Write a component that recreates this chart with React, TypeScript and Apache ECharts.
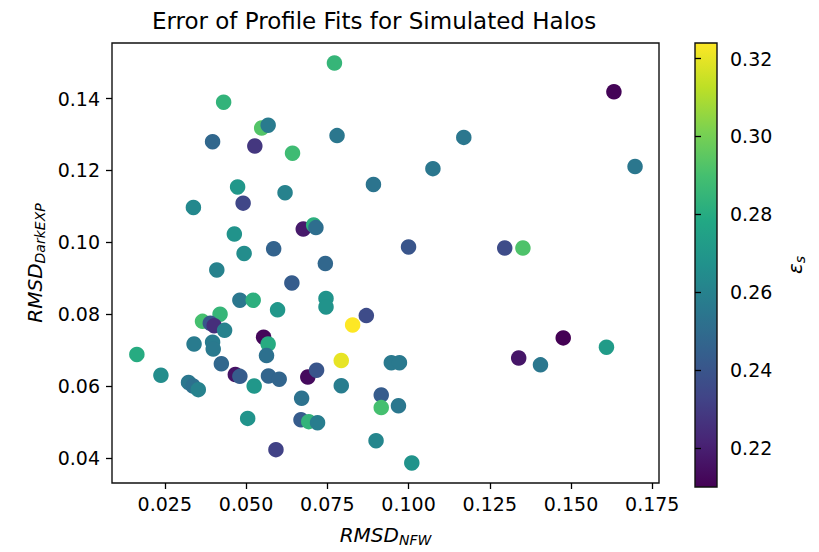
import React, { useEffect, useRef } from "react";
import * as echarts from "echarts";

const xValues = [
  0.0772, 0.0431, 0.0548, 0.0568, 0.0397, 0.0527, 0.078, 0.0643, 0.0474, 0.062,
  0.0892, 0.0338, 0.0491, 0.0464, 0.0676, 0.0708, 0.0715, 0.0494, 0.0585, 0.0744,
  0.1632, 0.117, 0.1075, 0.1697, 0.1, 0.1296, 0.1352, 0.041, 0.0641, 0.0481,
  0.0522, 0.0746, 0.0746, 0.0597, 0.087, 0.0828, 0.0366, 0.042, 0.039, 0.0402,
  0.0434, 0.0554, 0.0568, 0.0563, 0.034, 0.0397, 0.0399, 0.0164, 0.0424, 0.0238,
  0.0323, 0.0337, 0.0353, 0.0467, 0.0481, 0.0525, 0.0569, 0.0602, 0.069, 0.0717,
  0.0793, 0.0793, 0.0671, 0.0505, 0.0669, 0.0693, 0.072, 0.0592, 0.0947, 0.0972,
  0.0916, 0.0916, 0.0969, 0.09, 0.101, 0.1476, 0.1339, 0.1406, 0.1609,
];
const yValues = [
  0.1499, 0.139, 0.1318, 0.1326, 0.128, 0.1268, 0.1297, 0.1248, 0.1154, 0.1138,
  0.1161, 0.1097, 0.1109, 0.1023, 0.1037, 0.1048, 0.1041, 0.0969, 0.0982, 0.0941,
  0.1419, 0.1292, 0.1205, 0.1211, 0.0987, 0.0984, 0.0984, 0.0923, 0.0887, 0.0839,
  0.0839, 0.0844, 0.082, 0.0812, 0.0796, 0.077, 0.078, 0.08, 0.0775, 0.0768,
  0.0755, 0.0736, 0.0717, 0.0685, 0.0717, 0.0722, 0.0703, 0.0688, 0.0662, 0.063,
  0.061, 0.06, 0.059, 0.0632, 0.0627, 0.06, 0.0628, 0.0619, 0.0625, 0.0644,
  0.0671, 0.0601, 0.0566, 0.051, 0.0506, 0.0501, 0.0498, 0.0423, 0.0665, 0.0665,
  0.0575, 0.054, 0.0545, 0.0448, 0.0386, 0.0734, 0.0678, 0.0659, 0.0708,
];
const epsValues = [
  0.285, 0.284, 0.293, 0.257, 0.248, 0.228, 0.255, 0.288, 0.27, 0.26,
  0.254, 0.263, 0.234, 0.268, 0.218, 0.282, 0.251, 0.265, 0.246, 0.248,
  0.211, 0.255, 0.255, 0.255, 0.24, 0.236, 0.292, 0.26, 0.243, 0.255,
  0.282, 0.268, 0.268, 0.27, 0.236, 0.324, 0.29, 0.285, 0.24, 0.225,
  0.26, 0.212, 0.28, 0.252, 0.257, 0.257, 0.256, 0.28, 0.248, 0.265,
  0.255, 0.252, 0.26, 0.216, 0.243, 0.27, 0.247, 0.247, 0.213, 0.24,
  0.32, 0.258, 0.253, 0.268, 0.243, 0.284, 0.258, 0.232, 0.256, 0.256,
  0.243, 0.29, 0.255, 0.262, 0.268, 0.21, 0.217, 0.255, 0.272,
];

const xTicks = [0.025, 0.05, 0.075, 0.1, 0.125, 0.15, 0.175];
const yTicks = [0.04, 0.06, 0.08, 0.1, 0.12, 0.14];
const cbarTicks = [0.22, 0.24, 0.26, 0.28, 0.3, 0.32];
const viridis = [
  "#440154", "#482475", "#414487", "#355f8d", "#2a788e", "#21918c",
  "#22a884", "#44bf70", "#7ad151", "#bddf26", "#fde725",
];
const titleText = "Error of Profile Fits for Simulated Halos";
const xName = "{m|RMSD}{s|NFW}";
const yName = "{m|RMSD}{s|DarkEXP}";
const cName = "{m|ε}{s|s}";

export default function App() {
  const ref = useRef<HTMLDivElement>(null);
  useEffect(() => {
    const chart = echarts.init(ref.current!, null, { renderer: "svg" });
    const font = "DejaVu Sans";
    const data = xValues.map((x, i) => [x, yValues[i], epsValues[i]]);
    const tickLabel = { fontFamily: font, fontSize: 19, color: "#000" };
    const tickLine = { color: "#000", width: 1.3 };
    const rich = {
      m: { fontFamily: font, fontStyle: "italic", fontSize: 20, color: "#000", lineHeight: 24 },
      s: { fontFamily: font, fontStyle: "italic", fontSize: 14, color: "#000", lineHeight: 14, verticalAlign: "bottom" },
    };
    chart.setOption({
      animation: false,
      backgroundColor: "#fff",
      graphic: [
        {
          type: "text",
          x: 374,
          y: 21,
          style: {
            text: titleText,
            font: '23px "DejaVu Sans"',
            fill: "#000",
            textAlign: "center",
            textVerticalAlign: "middle",
          },
        },
      ],
      grid: [
        { left: 112, top: 43, width: 547, height: 444, show: true, borderColor: "#111", borderWidth: 1.4, backgroundColor: "#fff" },
        {
          left: 695, top: 43, width: 22, height: 444, show: true, borderColor: "#111", borderWidth: 1.4,
          backgroundColor: new echarts.graphic.LinearGradient(
            0, 1, 0, 0,
            viridis.map((c, i) => ({ offset: i / (viridis.length - 1), color: c }))
          ),
        },
      ],
      xAxis: [
        {
          type: "value", gridIndex: 0, min: 0.00875, max: 0.17707,
          splitLine: { show: false }, axisLine: { show: false },
          axisTick: { show: true, customValues: xTicks, length: 6, lineStyle: tickLine },
          axisLabel: { customValues: xTicks, formatter: (v: number) => v.toFixed(3), margin: 11, ...tickLabel },
          name: xName, nameLocation: "middle", nameGap: 40,
          nameTextStyle: { rich },
        },
        { type: "value", gridIndex: 1, show: false, min: 0, max: 1 },
      ],
      yAxis: [
        {
          type: "value", gridIndex: 0, min: 0.03302, max: 0.15547,
          splitLine: { show: false }, axisLine: { show: false },
          axisTick: { show: true, customValues: yTicks, length: 6, lineStyle: tickLine },
          axisLabel: { customValues: yTicks, formatter: (v: number) => v.toFixed(2), margin: 12, ...tickLabel },
          name: yName, nameLocation: "middle", nameRotate: 90, nameGap: 64,
          nameTextStyle: { rich },
        },
        {
          type: "value", gridIndex: 1, position: "right", min: 0.21, max: 0.324,
          splitLine: { show: false }, axisLine: { show: false },
          axisTick: { show: true, customValues: cbarTicks, length: 6, lineStyle: tickLine },
          axisLabel: { customValues: cbarTicks, formatter: (v: number) => v.toFixed(2), margin: 13, ...tickLabel },
          name: cName, nameLocation: "middle", nameRotate: 90, nameGap: 66,
          nameTextStyle: { rich },
        },
      ],
      visualMap: {
        show: false, type: "continuous", seriesIndex: 0, dimension: 2,
        min: 0.21, max: 0.324, inRange: { color: viridis },
      },
      series: [
        {
          type: "scatter", xAxisIndex: 0, yAxisIndex: 0, data,
          symbolSize: 15.5, itemStyle: { opacity: 1 },
        },
      ],
    });
    return () => chart.dispose();
  }, []);
  return (
    <div
      ref={ref}
      style={{ position: "absolute", left: 0, top: 0, width: 819, height: 552, background: "#fff" }}
    />
  );
}
